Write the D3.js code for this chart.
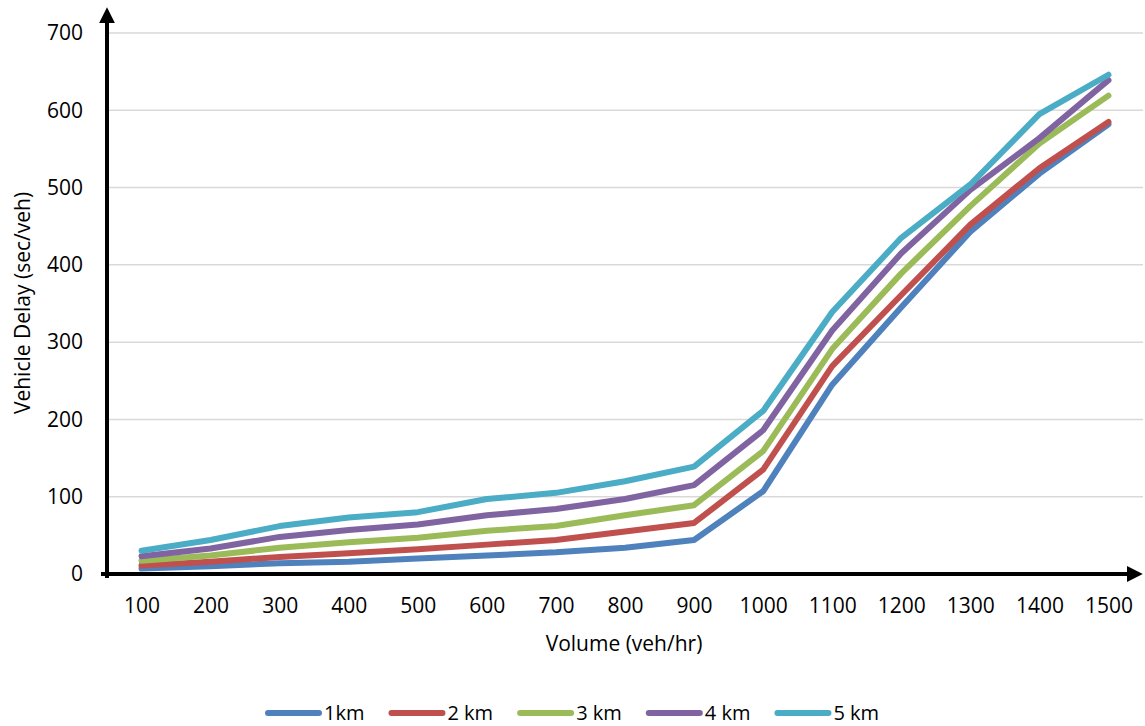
<!DOCTYPE html>
<html>
<head>
<meta charset="utf-8">
<script src="https://cdn.jsdelivr.net/npm/d3@7"></script>
<style>
  html, body { margin: 0; padding: 0; background: #fff; }
  svg text { font-family: "Open Sans", "Noto Sans", sans-serif; fill: #000; }
</style>
</head>
<body>
<svg id="chart" width="1145" height="726"></svg>
<script>
// Traffic volume categories (veh/hr)
const volumes = [100, 200, 300, 400, 500, 600, 700, 800, 900, 1000, 1100, 1200, 1300, 1400, 1500];

// Average vehicle delay (sec/veh) for each link length
const delay1km = [7, 10, 14, 16, 20, 24, 28, 34, 44, 107, 245, 345, 443, 518, 582];
const delay2km = [11, 16, 22, 27, 32, 38, 44, 55, 66, 135, 269, 361, 452, 525, 585];
const delay3km = [17, 24, 34, 41, 47, 56, 62, 76, 89, 159, 291, 389, 476, 557, 619];
const delay4km = [23, 33, 48, 57, 64, 76, 84, 97, 115, 186, 315, 415, 497, 564, 639];
const delay5km = [30, 44, 62, 73, 80, 97, 105, 120, 139, 211, 339, 435, 504, 595, 646];

const seriesNames = ["1km", "2 km", "3 km", "4 km", "5 km"];
const seriesValues = [delay1km, delay2km, delay3km, delay4km, delay5km];
const seriesColors = ["#4F81BD", "#C0504D", "#9BBB59", "#8064A2", "#4BACC6"];

const yTicks = [0, 100, 200, 300, 400, 500, 600, 700];

const svg = d3.select("#chart");
const plotLeft = 107, plotRight = 1143, plotTop = 33, plotBottom = 574;
const labelFont = "21px";

const x = d3.scalePoint().domain(volumes).range([plotLeft, plotRight]).padding(0.5);
const y = d3.scaleLinear().domain([0, 700]).range([plotBottom, plotTop]);

// Horizontal gridlines
svg.append("g")
  .selectAll("line")
  .data(yTicks.filter(d => d > 0))
  .join("line")
  .attr("x1", plotLeft).attr("x2", plotRight)
  .attr("y1", d => y(d)).attr("y2", d => y(d))
  .attr("stroke", "#d9d9d9").attr("stroke-width", 1.5);

// Y axis labels
const yAxis = d3.axisLeft(y).tickValues(yTicks).tickSize(0).tickPadding(24);
svg.append("g")
  .attr("transform", `translate(${plotLeft},0)`)
  .call(yAxis)
  .call(g => g.select(".domain").remove())
  .call(g => g.selectAll("text")
    .style("font-size", labelFont)
    .style("font-family", '"Open Sans", sans-serif')
    .attr("fill", "#000"));

// X axis labels
const xAxis = d3.axisBottom(x).tickSize(0).tickPadding(24);
svg.append("g")
  .attr("transform", `translate(0,${plotBottom})`)
  .call(xAxis)
  .call(g => g.select(".domain").remove())
  .call(g => g.selectAll("text")
    .style("font-size", labelFont)
    .style("font-family", '"Open Sans", sans-serif')
    .attr("fill", "#000"));

// Series lines
const line = d3.line()
  .x((d, i) => x(volumes[i]))
  .y(d => y(d));

svg.append("g")
  .selectAll("path")
  .data(seriesValues)
  .join("path")
  .attr("d", d => line(d))
  .attr("fill", "none")
  .attr("stroke", (d, i) => seriesColors[i])
  .attr("stroke-width", 6)
  .attr("stroke-linejoin", "round")
  .attr("stroke-linecap", "round");

// Axis lines with arrowheads
const defs = svg.append("defs");
defs.append("marker")
  .attr("id", "arrow")
  .attr("viewBox", "0 0 10 10")
  .attr("refX", 2).attr("refY", 5)
  .attr("markerWidth", 4).attr("markerHeight", 4)
  .attr("markerUnits", "strokeWidth")
  .attr("orient", "auto")
  .append("path")
  .attr("d", "M0,0 L10,5 L0,10 Z")
  .attr("fill", "#000");

svg.append("line")
  .attr("x1", plotLeft).attr("x2", plotLeft)
  .attr("y1", plotBottom + 4).attr("y2", 20)
  .attr("stroke", "#000").attr("stroke-width", 4)
  .attr("marker-end", "url(#arrow)");

svg.append("line")
  .attr("x1", plotLeft - 6).attr("x2", 1130)
  .attr("y1", plotBottom).attr("y2", plotBottom)
  .attr("stroke", "#000").attr("stroke-width", 4)
  .attr("marker-end", "url(#arrow)");

// Axis titles
svg.append("text")
  .attr("x", 624).attr("y", 651)
  .attr("text-anchor", "middle")
  .style("font-size", labelFont)
  .text("Volume (veh/hr)");

svg.append("text")
  .attr("transform", "translate(30,303) rotate(-90)")
  .attr("text-anchor", "middle")
  .style("font-size", labelFont)
  .text("Vehicle Delay (sec/veh)");

// Legend
const legend = svg.append("g").attr("transform", "translate(0,713)");
let lx = 265;
seriesNames.forEach((name, i) => {
  const item = legend.append("g");
  item.append("line")
    .attr("x1", lx + 3).attr("x2", lx + 54)
    .attr("y1", 0).attr("y2", 0)
    .attr("stroke", seriesColors[i])
    .attr("stroke-width", 6)
    .attr("stroke-linecap", "round");
  const t = item.append("text")
    .attr("x", lx + 59).attr("y", 7)
    .style("font-size", "20px")
    .text(name);
  const w = t.node().getComputedTextLength();
  lx += 59 + w + 24;
});
</script>
</body>
</html>
